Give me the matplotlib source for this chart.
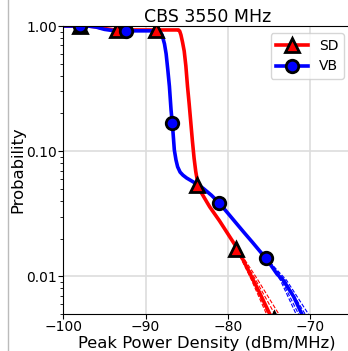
import numpy as np
import matplotlib
matplotlib.use('Agg')
import matplotlib.pyplot as plt
from matplotlib.lines import Line2D
from matplotlib.ticker import FixedLocator, FuncFormatter, NullFormatter

# CCDF of peak power density
sd_x = [-100, -97, -96, -95, -94, -93, -87, -86.0, -85.85, -85.7, -85.5, -85.3, -85.1, -84.9,
        -84.7, -84.5, -84.3, -84.1, -83.9, -83.7, -83.4, -82.2, -81, -80, -79, -78.1, -77, -76, -74.9, -74.3]
sd_p = [1.0, 1.0, 0.985, 0.955, 0.935, 0.93, 0.93, 0.93, 0.91, 0.85, 0.74, 0.63, 0.48, 0.33,
        0.24, 0.17, 0.12, 0.088, 0.069, 0.058, 0.0488, 0.0359, 0.0277, 0.0219, 0.0173, 0.0134, 0.0096, 0.0071, 0.005, 0.0044]

vb_x = [-100, -97, -96, -95, -94, -93, -89, -88.3, -88.0, -87.7, -87.5, -87.3, -87.1, -86.9,
        -86.75, -86.6, -86.5, -86.3, -86.1, -85.8, -85.45, -85.0, -84.2, -83, -82, -81.05,
        -80, -79, -78, -77, -76, -75.4, -74, -73.25, -72, -71, -70.5]
vb_p = [1.0, 1.0, 0.98, 0.94, 0.92, 0.915, 0.915, 0.91, 0.85, 0.72, 0.6, 0.45, 0.33, 0.213,
        0.168, 0.125, 0.102, 0.085, 0.075, 0.068, 0.0643, 0.061, 0.0568, 0.0505, 0.0445, 0.0386,
        0.032, 0.0267, 0.0223, 0.0187, 0.0156, 0.0141, 0.0104, 0.0093, 0.0069, 0.005, 0.0043]

# marker positions
sd_mx = [-98, -93.5, -88.7, -83.8, -79.0, -74.4]
sd_mp = [1.0, 0.93, 0.93, 0.0534, 0.0165, 0.0046]
vb_mx = [-98, -92.4, -86.75, -81.05, -75.4]
vb_mp = [1.0, 0.915, 0.168, 0.0386, 0.0141]

# thin dashed bounds in the tails
sd_bx = [[-79.5, -77.2, -75.3, -75.0], [-79.5, -77.1, -75.1, -74.8],
         [-79.5, -76.7, -74.3, -74.0], [-79.5, -76.45, -73.8, -73.5]]
sd_bp = [0.0195, 0.0096, 0.005, 0.0045]
vb_bx = [[-75.4, -73.6, -71.7, -71.4], [-75.4, -73.45, -71.4, -71.1],
         [-75.4, -73.05, -70.6, -70.3], [-75.4, -72.85, -70.2, -69.9]]
vb_bp = [0.0141, 0.0093, 0.005, 0.0044]

fig = plt.figure(figsize=(3.48, 3.51), dpi=100)
ax = fig.add_axes([0.182, 0.1054, 0.827, 0.8205])

for bx in sd_bx:
    ax.plot(bx, sd_bp, color='red', lw=0.8, ls='--')
for bx in vb_bx:
    ax.plot(bx, vb_bp, color='blue', lw=0.8, ls='--')

ax.plot(sd_x, sd_p, color='red', lw=2.6)
ax.plot(vb_x, vb_p, color='blue', lw=2.6)
ax.plot(sd_mx, sd_mp, ls='none', marker='^', ms=9.5, mfc='red', mec='black', mew=2)
ax.plot(vb_mx, vb_mp, ls='none', marker='o', ms=9, mfc='blue', mec='black', mew=2)

ax.set_yscale('log')
ax.set_xlim(-100, -65)
ax.set_ylim(0.005, 1.0)
ax.yaxis.set_major_locator(FixedLocator([0.01, 0.1, 1.0]))
ax.yaxis.set_major_formatter(FuncFormatter(lambda v, pos: '%.2f' % v))
ax.yaxis.set_minor_formatter(NullFormatter())
ax.set_xticks([-100, -90, -80, -70])
ax.grid(True, color='#dddddd', lw=1.2)
ax.set_axisbelow(True)
ax.tick_params(labelsize=10, length=3.5, pad=1)
ax.tick_params(which='minor', length=2)

ax.set_title('CBS 3550 MHz', fontsize=12.5, pad=3)
ax.set_xlabel('Peak Power Density (dBm/MHz)', fontsize=11.8, labelpad=1)
ax.set_ylabel('Probability', fontsize=11.8, labelpad=1)

handles = [Line2D([], [], color='red', lw=2.6, marker='^', ms=9.5, mfc='red', mec='black', mew=2),
           Line2D([], [], color='blue', lw=2.6, marker='o', ms=9, mfc='blue', mec='black', mew=2)]
ax.legend(handles, ['SD', 'VB'], loc='upper right', fontsize=10, handlelength=2.3)

# edge of the neighbouring panel
fig.add_artist(Line2D([7.5 / 348, 7.5 / 348], [0, 1], transform=fig.transFigure, color='#bbbbbb', lw=1))

fig.savefig('out.png', dpi=100)
